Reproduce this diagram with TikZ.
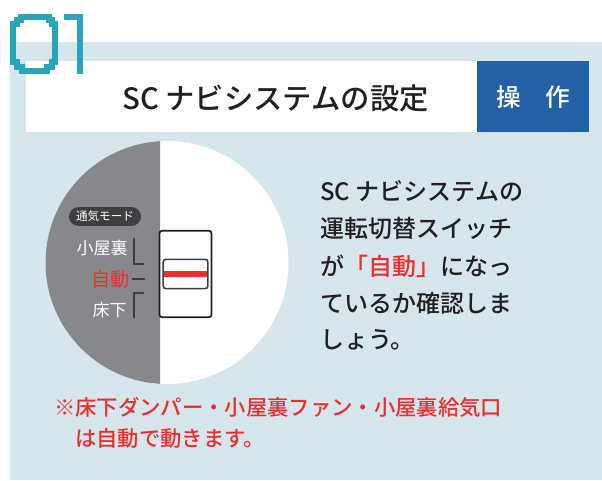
\documentclass[tikz,border=0pt]{standalone}
\usepackage{fontspec}
\setmainfont{Noto Sans CJK JP}[BoldFont={Noto Sans CJK JP Medium}]
\definecolor{panel}{HTML}{D5E7ED}
\definecolor{teal01}{HTML}{2BA3B8}
\definecolor{blueb}{HTML}{2261A5}
\definecolor{grayl}{HTML}{87888C}
\definecolor{ink}{HTML}{231F20}
\definecolor{redt}{HTML}{EE2D2D}
\definecolor{pill}{HTML}{3F3F42}
\newcommand{\fs}[1]{\fontsize{#1}{#1}\selectfont}
\tikzset{
 body/.style={anchor=west,text=ink,inner sep=0pt,font=\fs{18}\bfseries},
 redline/.style={anchor=west,text=redt,inner sep=0pt,font=\fs{16}\bfseries},
 modelabel/.style={anchor=east,inner sep=0pt,font=\fs{12.8},text=white},
 bracket/.style={draw=pill,line width=1.5pt},
 digit/.style={draw=teal01,line width=4.5pt,line join=miter}
}
\begin{document}
\begin{tikzpicture}[x=0.75pt,y=-0.75pt]
\useasboundingbox (0,0) rectangle (602,480);
\fill[white] (0,0) rectangle (602,480);
\fill[panel] (10,42) rectangle (602,480);
% title
\fill[white] (26,61) rectangle (477,132);
\fill[blueb] (477,61) rectangle (589,132);
% 01
\draw[digit] (13,27) -- (13,24) -- (17,24) -- (17,20) -- (21,20) -- (21,17) -- (49,17) -- (49,20) -- (52,20) -- (52,24) -- (55,24) -- (55,62) -- (52,62) -- (52,67) -- (47,67) -- (47,71) -- (22,71) -- (22,67) -- (17,67) -- (17,62) -- (13,62) -- cycle;
\draw[digit] (64,17) -- (80,17) -- (80,74);
\node[anchor=west,inner sep=0pt,text=ink,font=\fs{22}\bfseries] (title) at (122,98) {SC ナビシステムの設定};
\node[anchor=center,inner sep=0pt,text=white,font=\fs{18.5}\bfseries] (op) at (533,97) {操\hspace{1em}作};
% dial
\fill[white] (167,262.5) circle (121.5);
\begin{scope}
\clip (0,130) rectangle (160,400);
\fill[grayl] (167,262.5) circle (121.5);
\end{scope}
\node[fill=pill,rounded corners=7pt,minimum width=54pt,minimum height=14pt,inner sep=0pt,text=white,font=\fs{8.7}] (pillbox) at (105,216.5) {通気モード};
\node[modelabel] (m1) at (128,248) {小屋裏};
\node[modelabel,text=redt,font=\fs{14.3}] (m2) at (130,279) {自動};
\node[modelabel] (m3) at (127,310) {床下};
\draw[bracket] (134,238) -- (134,263.5) -- (144,263.5);
\draw[bracket] (132,278.5) -- (145,278.5);
\draw[bracket] (144,293) -- (134,293) -- (134,318);
% switch
\node[draw=ink,fill=white,line width=1.3pt,rounded corners=2pt,minimum width=39pt,minimum height=65pt,inner sep=0pt] (sw) at (185.5,274) {};
\node[draw=pill,fill=white,line width=1.2pt,rounded corners=2pt,minimum width=33.5pt,minimum height=22pt,inner sep=0pt] (rocker) at (185.5,274) {};
\fill[redt] (164,271) rectangle (207,277);
% body
\node[body] (l1) at (320,191) {SC ナビシステムの};
\node[body] (l2) at (320,228) {運転切替スイッチ};
\node[body] (l3) at (320,266) {が\textcolor{redt}{「自動」}になっ};
\node[body] (l4) at (320,303) {ているか確認しま};
\node[body] (l5) at (320,340) {しょう。};
\node[redline] (r1) at (54,407) {※床下ダンパー・小屋裏ファン・小屋裏給気口};
\node[redline] (r2) at (75,438) {は自動で動きます。};
\end{tikzpicture}
\end{document}
